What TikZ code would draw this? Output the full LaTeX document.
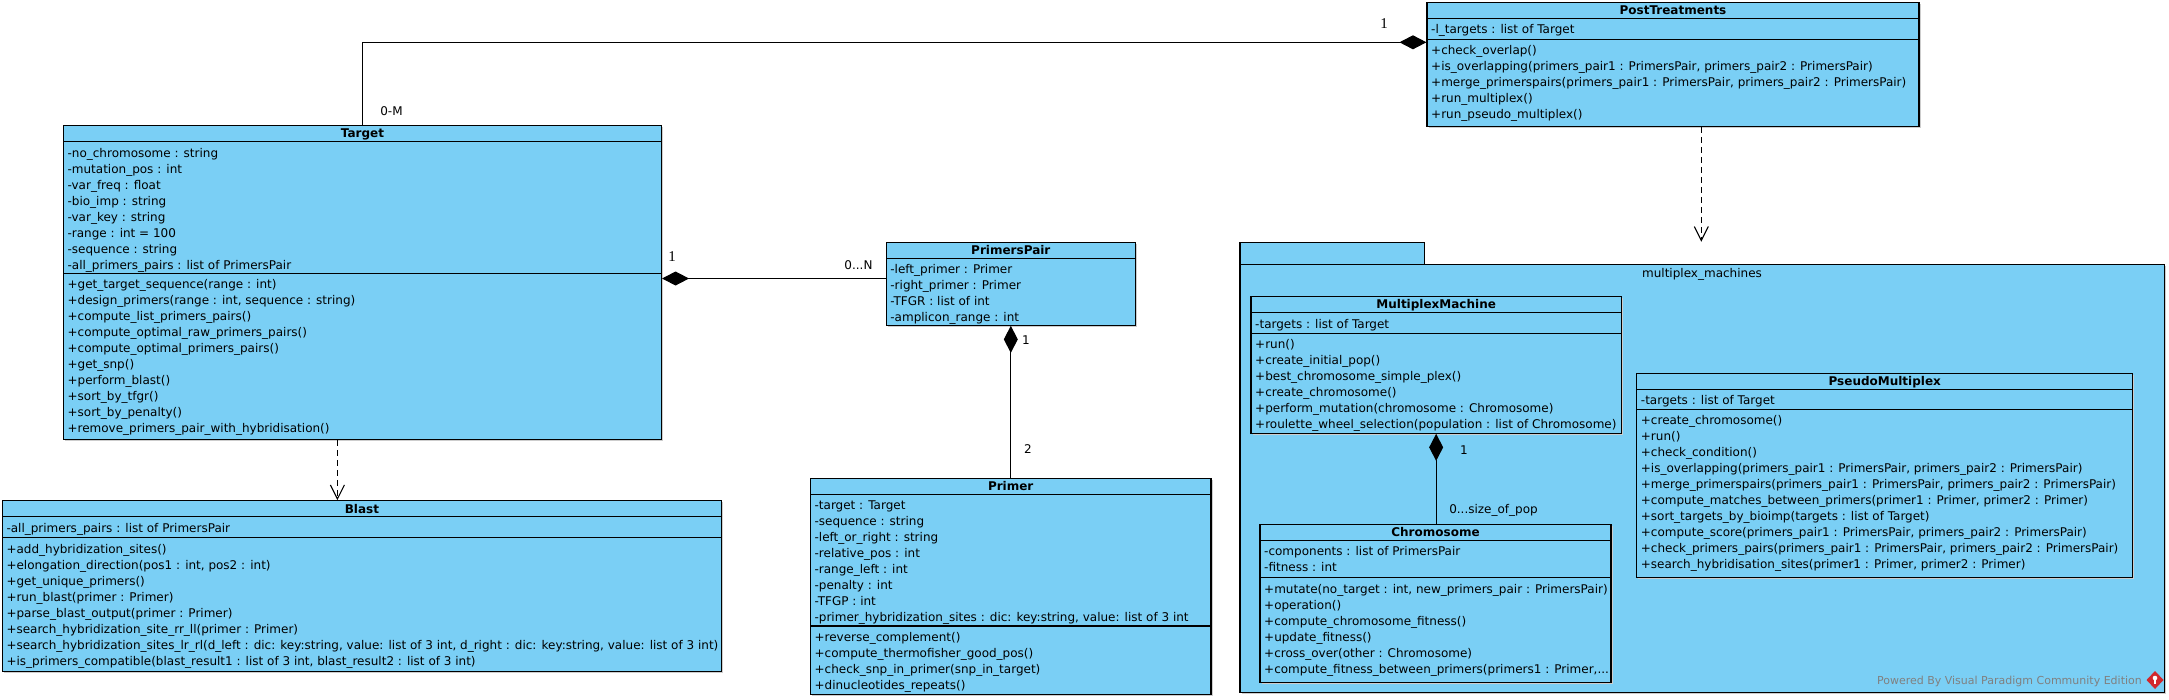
\documentclass[tikz,border=0pt]{standalone}
\usepackage{fontspec}
\setmainfont{DejaVu Sans}
\newfontfamily\oneserif{Liberation Serif}
\usetikzlibrary{arrows.meta}
\definecolor{vpblue}{RGB}{122,207,245}
\definecolor{vpshadow}{RGB}{205,205,205}
\definecolor{vpgray}{RGB}{128,128,128}
\definecolor{vpred}{RGB}{210,40,45}
\tikzset{
  classbox/.style={draw=black, line width=1.1pt, fill=vpblue, inner sep=0pt, rectangle},
  sepline/.style={draw=black, line width=1.1pt},
  rowtext/.style={anchor=base west, inner sep=0pt, font=\fontsize{12}{14}\selectfont},
  titletext/.style={anchor=base, inner sep=0pt, font=\fontsize{12}{14}\selectfont\bfseries},
  assoc/.style={draw=black, line width=1.1pt},
  comp/.style={assoc, {Diamond[length=27pt,width=14pt]}-},
  dep/.style={draw=black, line width=1.1pt, dash pattern=on 6pt off 4pt, -{Straight Barb[length=14pt,width=14pt]}},
  mult/.style={anchor=base, inner sep=0pt, font=\fontsize{12}{14}\selectfont},
  multserif/.style={anchor=base, inner sep=0pt, font=\fontsize{15}{17}\oneserif},
}
\newcommand\umlbox[6]{%
  \fill[vpshadow] ({#3+1.5},{#5+1.5}) rectangle ({#4+1.5},{#6+1.5});
  \node[classbox, minimum width={#4-#3}, minimum height={#6-#5}] (#1) at ({(#3+#4)/2},{(#5+#6)/2}) {};
  \node[titletext] (#1-title) at ({(#3+#4)/2},{#5+12.3}) {#2};
  \draw[sepline] (#3,{#5+16}) -- (#4,{#5+16});
}
\newcommand\umlsep[3]{\draw[sepline] (#1,#3) -- (#2,#3);}
\newcommand\umlrows[4]{%
  \foreach \t [count=\i] in {#4} {
    \node[rowtext] (#1-\i) at ({#2+4},{#3+11+16*(\i-1)+4.3}) {\ignorespaces\t};
  }
}
\begin{document}
\begin{tikzpicture}[x=1pt,y=-1pt]
\fill[white] (0,0) rectangle (2169,699);
\useasboundingbox (0,0) rectangle (2169,699);

% ---------------- package ----------------
\fill[vpshadow] (1241.5,265.8) rectangle (2165.9,694.2);
\node[classbox, minimum width=924.4, minimum height=428.4] (pkg) at (1702.2,478.5) {};
\node[classbox, minimum width=184.6, minimum height=22] (pkgtab) at (1332.3,253.3) {};
\node[mult] (pkgname) at (1702,277) {multiplex\_machines};
\node[anchor=base east, inner sep=0pt, text=vpgray, font=\fontsize{11}{13}\selectfont] (powered) at (2142,684) {Powered By Visual Paradigm Community Edition};
\fill[vpred] (2155,671) -- (2163.5,680) -- (2155,689) -- (2146.5,680) -- cycle;
\fill[white] (2155,678) circle (2.3);
\fill[white] (2154,679) rectangle (2156,684);

% ---------------- classes ----------------
\umlbox{post}{PostTreatments}{1427}{1919}{2.3}{126.3}
\umlsep{1427}{1919}{39.3}
\umlrows{post-a}{1427}{18.3}{-l\_targets : list of Target}
\umlrows{post-m}{1427}{39.3}{+check\_overlap(),{+is\_overlapping(primers\_pair1 : PrimersPair, primers\_pair2 : PrimersPair)},{+merge\_primerspairs(primers\_pair1 : PrimersPair, primers\_pair2 : PrimersPair)},+run\_multiplex(),+run\_pseudo\_multiplex()}

\umlbox{target}{Target}{63.4}{661.5}{125.3}{439.3}
\umlsep{63.4}{661.5}{273.3}
\umlrows{target-a}{63.4}{141.7}{-no\_chromosome : string,-mutation\_pos : int,-var\_freq : float,-bio\_imp : string,-var\_key : string,-range : int = 100,-sequence : string,-all\_primers\_pairs : list of PrimersPair}
\umlrows{target-m}{63.4}{273.3}{+get\_target\_sequence(range : int),{+design\_primers(range : int, sequence : string)},+compute\_list\_primers\_pairs(),+compute\_optimal\_raw\_primers\_pairs(),+compute\_optimal\_primers\_pairs(),+get\_snp(),+perform\_blast(),+sort\_by\_tfgr(),+sort\_by\_penalty(),+remove\_primers\_pair\_with\_hybridisation()}

\umlbox{pp}{PrimersPair}{886.2}{1135.4}{242.3}{325.3}
\umlrows{pp-a}{886.2}{258.3}{-left\_primer : Primer,-right\_primer : Primer,-TFGR : list of int,-amplicon\_range : int}

\umlbox{primer}{Primer}{810.4}{1211}{478.3}{694.3}
\umlsep{810.4}{1211}{626}
\umlrows{primer-a}{810.4}{494.3}{-target : Target,-sequence : string,-left\_or\_right : string,-relative\_pos : int,-range\_left : int,-penalty : int,-TFGP : int,{-primer\_hybridization\_sites : dic: key:string, value: list of 3 int}}
\umlrows{primer-m}{810.4}{626}{+reverse\_complement(),+compute\_thermofisher\_good\_pos(),+check\_snp\_in\_primer(snp\_in\_target),+dinucleotides\_repeats()}

\umlbox{blast}{Blast}{2.3}{721.5}{500.7}{671.3}
\umlsep{2.3}{721.5}{537.7}
\umlrows{blast-a}{2.3}{516.7}{-all\_primers\_pairs : list of PrimersPair}
\umlrows{blast-m}{2.3}{537.7}{+add\_hybridization\_sites(),{+elongation\_direction(pos1 : int, pos2 : int)},+get\_unique\_primers(),+run\_blast(primer : Primer),+parse\_blast\_output(primer : Primer),+search\_hybridization\_site\_rr\_ll(primer : Primer),{+search\_hybridization\_sites\_lr\_rl(d\_left : dic: key:string, value: list of 3 int, d\_right : dic: key:string, value: list of 3 int)},{+is\_primers\_compatible(blast\_result1 : list of 3 int, blast\_result2 : list of 3 int)}}

\umlbox{mm}{MultiplexMachine}{1251}{1621.3}{296.3}{433.3}
\umlsep{1251}{1621.3}{333.3}
\umlrows{mm-a}{1251}{312.7}{-targets : list of Target}
\umlrows{mm-m}{1251}{333.3}{+run(),+create\_initial\_pop(),+best\_chromosome\_simple\_plex(),+create\_chromosome(),+perform\_mutation(chromosome : Chromosome),+roulette\_wheel\_selection(population : list of Chromosome)}

\umlbox{pm}{PseudoMultiplex}{1636.7}{2132.8}{373.3}{577.3}
\umlsep{1636.7}{2132.8}{409.3}
\umlrows{pm-a}{1636.7}{389.3}{-targets : list of Target}
\umlrows{pm-m}{1636.7}{409.3}{+create\_chromosome(),+run(),+check\_condition(),{+is\_overlapping(primers\_pair1 : PrimersPair, primers\_pair2 : PrimersPair)},{+merge\_primerspairs(primers\_pair1 : PrimersPair, primers\_pair2 : PrimersPair)},{+compute\_matches\_between\_primers(primer1 : Primer, primer2 : Primer)},+sort\_targets\_by\_bioimp(targets : list of Target),{+compute\_score(primers\_pair1 : PrimersPair, primers\_pair2 : PrimersPair)},{+check\_primers\_pairs(primers\_pair1 : PrimersPair, primers\_pair2 : PrimersPair)},{+search\_hybridisation\_sites(primer1 : Primer, primer2 : Primer)}}

\umlbox{chrom}{Chromosome}{1260}{1611}{524.3}{682.3}
\umlsep{1260}{1611}{577.7}
\umlrows{chrom-a}{1260}{540.3}{-components : list of PrimersPair,-fitness : int}
\umlrows{chrom-m}{1260}{577.7}{{+mutate(no\_target : int, new\_primers\_pair : PrimersPair)},+operation(),+compute\_chromosome\_fitness(),+update\_fitness(),+cross\_over(other : Chromosome),{+compute\_fitness\_between\_primers(primers1 : Primer,.{}.{}.}}

% ---------------- connectors ----------------
\coordinate (yPT) at (0,42.3);
\coordinate (yTP) at (0,278.5);
\coordinate (xTB) at (337.4,0);
\coordinate (xPP) at (1701.3,0);

\draw[comp] (post.west |- yPT) -| (target.north);
\draw[comp] (target.east |- yTP) -- (pp.west |- yTP);
\draw[comp] (pp.south) -- (pp.south |- primer.north);
\draw[comp] (mm.south) -- (mm.south |- chrom.north);
\draw[dep] (target.south -| xTB) -- (blast.north -| xTB);
\draw[dep] (post.south -| xPP) -- (pkgtab.north -| xPP);

% ---------------- multiplicities ----------------
\node[mult] (m0M) at (391.5,115.3) {0-M};
\node[multserif] (m1post) at (1384,28) {1};
\node[multserif] (m1target) at (672,261) {1};
\node[mult] (m0N) at (858.5,269.3) {0...N};
\node[mult] (m1pp) at (1026,344.3) {1};
\node[mult] (m2primer) at (1028,453.3) {2};
\node[mult] (m1mm) at (1464,454.3) {1};
\node[mult] (mpop) at (1493.5,513.3) {0...size\_of\_pop};
\end{tikzpicture}
\end{document}
